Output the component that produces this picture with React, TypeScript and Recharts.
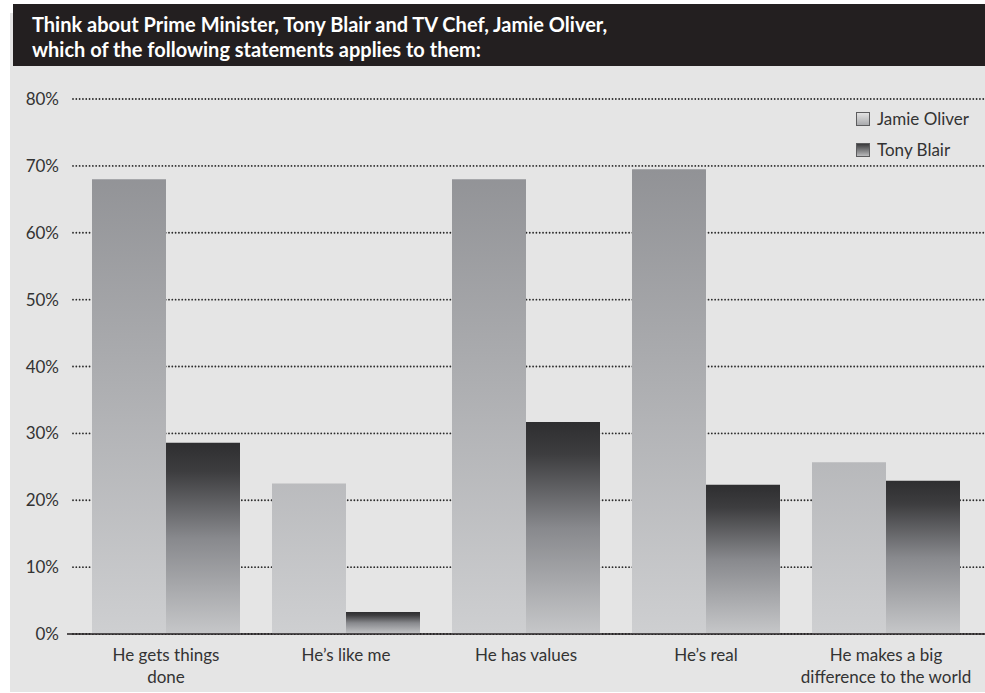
import React from 'react';
import { BarChart, Bar, XAxis, YAxis, CartesianGrid } from 'recharts';

// statements (\n = line break in the axis label)
const CATEGORIES = [
  'He gets things\ndone',
  'He’s like me',
  'He has values',
  'He’s real',
  'He makes a big\ndifference to the world',
];
const JAMIE_OLIVER = [68.0, 22.5, 68.0, 69.5, 25.7];
const TONY_BLAIR = [28.6, 3.3, 31.7, 22.3, 22.9];
const Y_TICKS = [0, 10, 20, 30, 40, 50, 60, 70, 80];

const FONT = 'Lato, "Open Sans", sans-serif';

const chartData = CATEGORIES.map((label, i) => ({
  label,
  jamie: JAMIE_OLIVER[i],
  tony: TONY_BLAIR[i],
}));

// dotted grid line, starts a bit right of the plot edge like the original
const DottedLine = (p: any) => (
  <line
    key={p.key}
    x1={p.x1 + 6}
    x2={p.x2}
    y1={p.y1}
    y2={p.y2}
    stroke="#2b2b2b"
    strokeWidth={1.8}
    strokeDasharray="0.01 3.3"
    strokeLinecap="round"
  />
);

const CatTick = ({ x, y, payload }: any) => {
  const lines = String(payload.value).split('\n');
  return (
    <text x={x} y={y} textAnchor="middle" fill="#333" fontSize={17} fontFamily={FONT}>
      {lines.map((l, i) => (
        <tspan key={i} x={x} dy={i === 0 ? 19 : 22}>
          {l}
        </tspan>
      ))}
    </text>
  );
};

const LEGEND = [
  { name: 'Jamie Oliver', bg: 'linear-gradient(#e2e2e2, #a9aaad)' },
  { name: 'Tony Blair', bg: 'linear-gradient(#3a3a3c, #b9babc)' },
];

const LegendBox = () => (
  <div style={{ position: 'absolute', left: 856, top: 103, fontFamily: FONT, fontSize: 17, color: '#333' }}>
    {LEGEND.map((it) => (
      <div key={it.name} style={{ display: 'flex', alignItems: 'center', height: 31 }}>
        <span
          style={{
            width: 12,
            height: 12,
            border: '1px solid #5c5c5e',
            background: it.bg,
            marginRight: 7,
            display: 'inline-block',
          }}
        />
        <span>{it.name}</span>
      </div>
    ))}
  </div>
);

export default function App() {
  return (
    <div style={{ position: 'absolute', left: 0, top: 0, width: 985, height: 693, background: '#fff', overflow: 'hidden' }}>
      <div style={{ position: 'absolute', left: 10, top: 13, width: 975, height: 679, background: '#e5e5e5' }} />
      <div
        style={{
          position: 'absolute',
          left: 13,
          top: 4,
          width: 972,
          height: 62,
          background: '#231f20',
          color: '#fff',
          fontFamily: FONT,
          fontWeight: 700,
          fontSize: 20,
          lineHeight: '25px',
          boxSizing: 'border-box',
          padding: '8px 0 0 19px',
        }}
      >
        Think about Prime Minister, Tony Blair and TV Chef, Jamie Oliver,
        <br />
        which of the following statements applies to them:
      </div>
      <div style={{ position: 'absolute', left: 0, top: 0 }}>
        <BarChart
          width={985}
          height={693}
          data={chartData}
          margin={{ top: 99, right: 0, bottom: 29, left: 0 }}
          barCategoryGap={16}
          barGap={0}
        >
          <defs>
            <linearGradient id="gradJamie" gradientUnits="userSpaceOnUse" x1="0" y1="99" x2="0" y2="634">
              <stop offset="0" stopColor="#88898d" />
              <stop offset="1" stopColor="#cecfd1" />
            </linearGradient>
            <linearGradient id="gradTony" x1="0" y1="0" x2="0" y2="1">
              <stop offset="0" stopColor="#2e2e30" />
              <stop offset="0.15" stopColor="#3d3d3f" />
              <stop offset="0.5" stopColor="#88898d" />
              <stop offset="1" stopColor="#c6c7c9" />
            </linearGradient>
          </defs>
          <CartesianGrid vertical={false} horizontal={DottedLine} />
          <XAxis
            dataKey="label"
            interval={0}
            padding={{ left: 9, right: 9 }}
            axisLine={{ stroke: '#231f20', strokeWidth: 1.5 }}
            tickLine={false}
            tick={<CatTick />}
          />
          <YAxis
            width={67}
            domain={[0, 80]}
            ticks={Y_TICKS}
            interval={0}
            axisLine={false}
            tickLine={false}
            tick={{ fill: '#333', fontSize: 17, fontFamily: FONT }}
            tickFormatter={(v) => `${v}%`}
          />
          <Bar dataKey="jamie" name="Jamie Oliver" fill="url(#gradJamie)" isAnimationActive={false} />
          <Bar dataKey="tony" name="Tony Blair" fill="url(#gradTony)" isAnimationActive={false} />
        </BarChart>
      </div>
      <LegendBox />
    </div>
  );
}
